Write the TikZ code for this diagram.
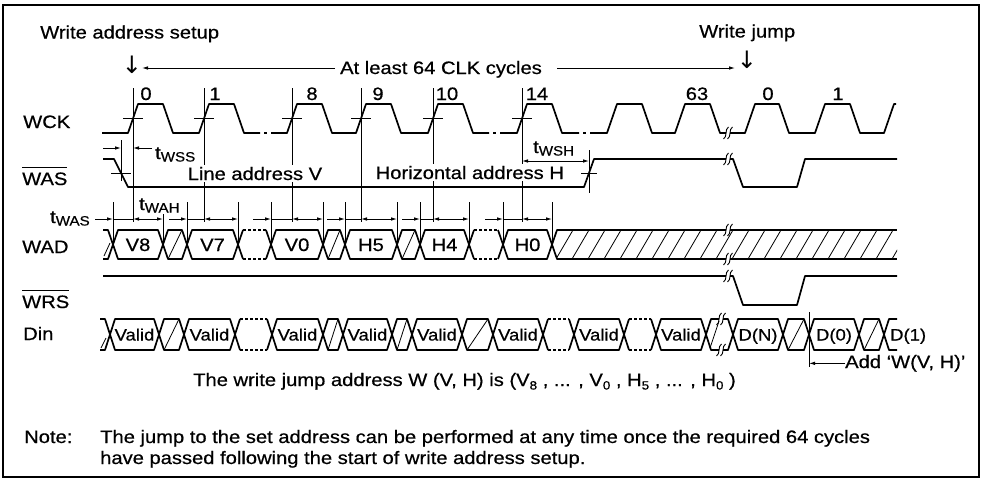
\documentclass[tikz,border=0pt]{standalone}
\usepackage{fontspec}
\setmainfont{Liberation Sans}[FakeStretch=1.12,FakeBold=0.6]
\newfontfamily\arrowfont{DejaVu Sans}
\usetikzlibrary{arrows.meta}
\newcommand\myovl[1]{\leavevmode\vbox{\hrule height 1.6pt\kern 4pt\hbox{#1}}}
\newcommand\mysub[1]{\raisebox{-2.5pt}{\fontsize{13.5}{14}\selectfont #1}}
\newcommand\mydsub[1]{\raisebox{-3.5pt}{\fontsize{12}{12}\selectfont #1}}
\newcommand\brkmark[2]{\draw[line width=0.9pt] (#1-2.5,#2+6) .. controls (#1+1.5,#2+4) and (#1-1.5,#2-4) .. (#1+2.5,#2-6);}
\begin{document}
\begin{tikzpicture}[x=1pt,y=-1pt,
 sig/.style={line width=1.7pt,line join=round},
 dim/.style={line width=0.9pt},
 hat/.style={line width=0.8pt},
 tip/.style={-{Latex[length=6pt,width=3.6pt]}},
 tips/.style={{Latex[length=6pt,width=3.6pt]}-{Latex[length=6pt,width=3.6pt]}},
 dotl/.style={dash pattern=on 2.5pt off 2.5pt},
 lbl/.style={font=\fontsize{18}{21}\selectfont, inner sep=0pt},
 vtxt/.style={font=\fontsize{16.5}{18}\selectfont, inner sep=0pt},
 darr/.style={font=\arrowfont\fontsize{24}{26}\selectfont, inner sep=0pt},
 ]
\useasboundingbox (0,0) rectangle (982,485);
\draw[line width=1.2pt] (3,5) rectangle (979,477);

% ---------- top labels ----------
\node[lbl, anchor=base west] (wasetup) at (40,38.5) {Write address setup};
\node[lbl, anchor=base west] (wjump) at (699,37.5) {Write jump};
\node[darr] (dn1) at (132,65) {↓};
\node[darr] (dn2) at (747,60) {↓};
\node[lbl, anchor=base] (atl) at (441,74) {At least 64 CLK cycles};
\coordinate (la) at (142,68);
\coordinate (la0) at (335,68);
\coordinate (ra) at (735,68);
\coordinate (ra0) at (557,68);
\draw[dim,tip] (la0) -- (la);
\draw[dim,tip] (ra0) -- (ra);

% ---------- signal names ----------
\node[lbl, anchor=base west] (lwck) at (23,128) {WCK};
\node[lbl, anchor=base west] (lwas) at (22,185) {\myovl{WAS}};
\node[lbl, anchor=base west] (lwad) at (22,253) {WAD};
\node[lbl, anchor=base west] (lwrs) at (22,308) {\myovl{WRS}};
\node[lbl, anchor=base west] (ldin) at (23,340) {Din};

% ---------- clock numbers ----------
\foreach \x/\n [count=\i] in {146/0,215/1,312/8,378/9,447/10,537/14,697/63,768/0,838/1}
  \node[lbl, anchor=base] (cn\i) at (\x,100) {\n};

% ---------- WCK ----------
\draw[sig] (102,133) -- (128,133) -- (138,104) -- (163,104) -- (173,133) -- (199,133) -- (209,104) -- (234,104) -- (244,133) -- (260,133);
\draw[sig] (264,133) -- (267,133);
\draw[sig] (271,133) -- (287,133) -- (297,104) -- (322,104) -- (332,133) -- (356,133) -- (366,104) -- (391,104) -- (401,133) -- (428,133) -- (438,104) -- (463,104) -- (473,133) -- (489,133);
\draw[sig] (493,133) -- (496,133);
\draw[sig] (500,133) -- (517,133) -- (527,104) -- (552,104) -- (562,133) -- (579,133);
\draw[sig] (583,133) -- (586,133);
\draw[sig] (590,133) -- (607,133) -- (617,104) -- (642,104) -- (652,133) -- (675,133) -- (685,104) -- (710,104) -- (720,133) -- (726,133);
\draw[sig] (730,133) -- (745,133) -- (755,104) -- (779,104) -- (789,133) -- (815,133) -- (825,104) -- (850,104) -- (860,133) -- (884,133) -- (894,104) -- (896,104);
\brkmark{726}{133}\brkmark{730}{133}

% clock reference lines and ticks
\foreach \x in {133,204,292,361,433,522}{
  \draw[dim] (\x,88) -- (\x,222);
  \draw[dim] (\x-10,118.5) -- (\x+10,118.5);
}

% ---------- WAS ----------
\draw[sig] (103,159) -- (114,159) -- (128,187) -- (584,187) -- (594,159) -- (726,159);
\draw[sig] (730,159) -- (733,159) -- (743,187) -- (797,187) -- (805,159) -- (897,159);
\brkmark{726}{159}\brkmark{730}{159}
% tWSS
\draw[dim] (121,140) -- (121,181);
\draw[dim] (111,173) -- (131,173);
\draw[dim,tip] (103,148) -- (121,148);
\draw[dim,tip] (152,148) -- (133,148);
\node[lbl, anchor=base west] (twss) at (155,159) {t\mysub{WSS}};
% tWSH
\draw[dim] (589,150) -- (589,193);
\draw[dim] (581,173) -- (597,173);
\draw[dim,tips] (522,161) -- (589,161);
\node[lbl, anchor=base west] (twsh) at (533,153) {t\mysub{WSH}};

\node[lbl, anchor=base west, fill=white, inner sep=1.5pt] (lav) at (186,180) {Line address V};
\node[lbl, anchor=base west, fill=white, inner sep=1.5pt] (hah) at (374,179) {Horizontal address H};

% ---------- WAD ----------
\def\T{230}\def\B{259}\def\M{244.5}
\draw[sig] (103,\T) -- (108,\T) -- (113,\M) -- (108,\B) -- (103,\B);
\draw[hat] (104,256) -- (110,243);
\foreach \a/\b/\t [count=\i] in {113/163/V8,187/238/V7,271/323/V0,345/397/H5,420/469/H4,503/552/H0}{
  \draw[sig] (\a,\M) -- (\a+5,\T) -- (\b-5,\T) -- (\b,\M) -- (\b-5,\B) -- (\a+5,\B) -- cycle;
  \node[lbl, anchor=base] (wad\i) at ({(\a+\b)/2},251) {\t};
}
\foreach \a/\b in {163/187,323/345,397/420}{
  \draw[sig] (\a,\M) -- (\a+5,\T) -- (\b-5,\T) -- (\b,\M) -- (\b-5,\B) -- (\a+5,\B) -- cycle;
  \draw[hat] (\a+5,\B) -- (\b-5,\T);
}
\foreach \a/\b in {238/271,469/503}{
  \draw[sig] (\a+5,\T) -- (\a,\M) -- (\a+5,\B) (\b-5,\T) -- (\b,\M) -- (\b-5,\B);
  \draw[sig,dotl] (\a+5,\T) -- (\b-5,\T) (\a+5,\B) -- (\b-5,\B);
}
\begin{scope}
\clip (552,\M) -- (557,\T) -- (897,\T) -- (897,\B) -- (557,\B) -- cycle;
\foreach \x in {540,556,...,900} \draw[hat] (\x,\B) -- (\x+17,\T);
\end{scope}
\draw[sig] (726,\T) -- (557,\T) -- (552,\M) -- (557,\B) -- (726,\B);
\draw[sig] (730,\T) -- (897,\T) (730,\B) -- (897,\B);
\brkmark{726}{230}\brkmark{730}{230}
\brkmark{726}{259}\brkmark{730}{259}

% extension lines and dimension arrows
\foreach \x in {113,163,187,238,271,323,345,397,420,469,503,552}
  \draw[dim] (\x,202) -- (\x,241);
\foreach \s/\c/\e in {113/133/163,187/204/238,271/292/323,345/361/397,420/433/469,503/522/552}{
  \draw[dim,tip] (\s-18,219) -- (\s,219);
  \draw[dim] (\s,219) -- (\c,219);
  \draw[dim,tips] (\c,219) -- (\e,219);
}
\node[lbl, anchor=base west, fill=white, inner sep=1pt] (twah) at (138,210) {t\mysub{WAH}};
\node[lbl, anchor=base west] (twas) at (50,223) {t\mysub{WAS}};

% ---------- WRS ----------
\draw[sig] (103,276) -- (726,276);
\draw[sig] (730,276) -- (733,276) -- (743,305) -- (797,305) -- (805,276) -- (897,276);
\brkmark{726}{276}\brkmark{730}{276}

% ---------- Din ----------
\def\Ta{319}\def\Ba{350}\def\Ma{334.5}
\draw[sig] (100,\Ta) -- (105,\Ta) -- (110,\Ma) -- (105,\Ba) -- (100,\Ba);
\draw[hat] (101,348) -- (106,338);
\foreach \a/\b/\t [count=\i] in {110/159/Valid,184/235/Valid,272/323/Valid,343/392/Valid,412/462/Valid,493/543/Valid,574/624/Valid,656/706/Valid,733/783/D(N),809/859/D(0)}{
  \draw[sig] (\a,\Ma) -- (\a+5,\Ta) -- (\b-5,\Ta) -- (\b,\Ma) -- (\b-5,\Ba) -- (\a+5,\Ba) -- cycle;
  \node[vtxt, anchor=base] (din\i) at ({(\a+\b)/2},340.5) {\t};
}
\foreach \a/\b in {159/184,323/343,392/412,462/493,783/809,859/884}{
  \draw[sig] (\a,\Ma) -- (\a+5,\Ta) -- (\b-5,\Ta) -- (\b,\Ma) -- (\b-5,\Ba) -- (\a+5,\Ba) -- cycle;
  \draw[hat] (\a+5,\Ba) -- (\b-5,\Ta);
}
\foreach \a/\b in {235/272,543/574,624/656}{
  \draw[sig] (\a+5,\Ta) -- (\a,\Ma) -- (\a+5,\Ba) (\b-5,\Ta) -- (\b,\Ma) -- (\b-5,\Ba);
  \draw[sig,dotl] (\a+5,\Ta) -- (\b-5,\Ta) (\a+5,\Ba) -- (\b-5,\Ba);
}
% hatched cell with break
\draw[sig] (719,\Ta) -- (711,\Ta) -- (706,\Ma) -- (711,\Ba) -- (719,\Ba);
\draw[sig] (723,\Ta) -- (728,\Ta) -- (733,\Ma) -- (728,\Ba) -- (723,\Ba);
\draw[hat] (710,348) -- (719,321);
\brkmark{719}{319}\brkmark{723}{319}
\brkmark{719}{350}\brkmark{723}{350}
% D(1)
\draw[sig] (897,\Ta) -- (889,\Ta) -- (884,\Ma) -- (889,\Ba) -- (897,\Ba);
\node[vtxt, anchor=base west] (din11) at (890,340.5) {D(1)};

% Add marker
\coordinate (addc) at (809,361);
\draw[dim] (809,312) -- (809,367);
\node[lbl, anchor=base west] (addw) at (845,368) {Add ‘W(V, H)’};
\draw[dim,tip] (addw.west) -- (addw.west -| addc);

% ---------- bottom texts ----------
\node[lbl, anchor=base west] (wja) at (193,386) {The write jump address W (V, H) is (V\mydsub{8} , ... , V\mydsub{0} , H\mydsub{5} , ... , H\mydsub{0} )};
\node[lbl, anchor=base west] (note) at (24,443) {Note:};
\node[lbl, anchor=base west] (n1) at (100,443) {The jump to the set address can be performed at any time once the required 64 cycles};
\node[lbl, anchor=base west] (n2) at (100,464) {have passed following the start of write address setup.};
\end{tikzpicture}
\end{document}
